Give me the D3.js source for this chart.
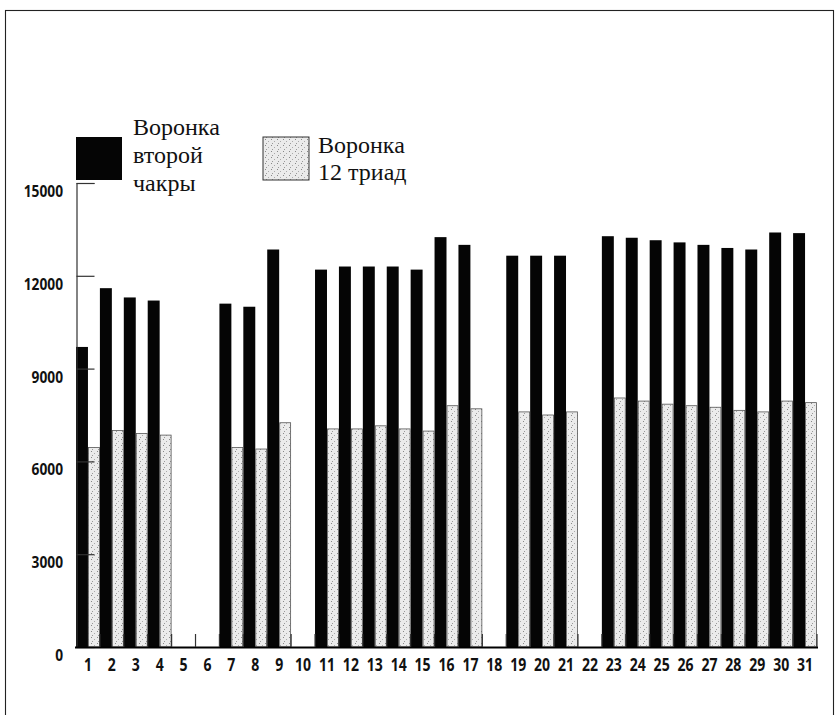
<!DOCTYPE html>
<html>
<head>
<meta charset="utf-8">
<script src="https://cdn.jsdelivr.net/npm/d3@7"></script>
<style>
  body { margin: 0; background: #fff; }
</style>
</head>
<body>
<div id="chart"></div>
<script>
// 1. DATA
// ======================================
var days = ["1","2","3","4","5","6","7","8","9","10","11","12","13","14","15","16",
  "17","18","19","20","21","22","23","24","25","26","27","28","29","30","31"];

// Воронка второй чакры (black)
var chakraValues = [9700, 11600, 11300, 11200, null, null, 11100, 11000, 12850, null,
  12200, 12300, 12300, 12300, 12200, 13250, 13000, null, 12650, 12650, 12650, null,
  13280, 13230, 13150, 13080, 13000, 12900, 12850, 13400, 13380];

// Воронка 12 триад (stippled)
var triadValues = [6450, 7000, 6900, 6850, null, null, 6450, 6400, 7250, null,
  7050, 7050, 7150, 7050, 6980, 7800, 7700, null, 7600, 7500, 7600, null,
  8050, 7950, 7850, 7800, 7750, 7650, 7600, 7950, 7900];

var yTicks = [0, 3000, 6000, 9000, 12000, 15000];

var legendChakra = ["Воронка", "второй", "чакры"];
var legendTriad = ["Воронка", "12 триад"];

var serifFont = "'Liberation Serif', 'DejaVu Serif', 'Times New Roman', serif";
var sansFont = "'Open Sans', 'DejaVu Sans', sans-serif";

// 2. SET UP SVG
// ======================================
var svgWidth = 836;
var svgHeight = 715;

var svg = d3.select("#chart")
  .append("svg")
  .attr("width", svgWidth)
  .attr("height", svgHeight);

// stipple pattern for the light bars
var defs = svg.append("defs");
var pat = defs.append("pattern")
  .attr("id", "stipple")
  .attr("patternUnits", "userSpaceOnUse")
  .attr("width", 6)
  .attr("height", 6);
pat.append("rect").attr("width", 6).attr("height", 6).attr("fill", "#ebebeb");
pat.append("rect").attr("x", 1).attr("y", 1).attr("width", 1).attr("height", 1).attr("fill", "#888");
pat.append("rect").attr("x", 4).attr("y", 3).attr("width", 1).attr("height", 1).attr("fill", "#aaa");
pat.append("rect").attr("x", 2).attr("y", 5).attr("width", 1).attr("height", 1).attr("fill", "#999");

// outer frame
svg.append("rect")
  .attr("x", 5.5)
  .attr("y", 10.5)
  .attr("width", 828)
  .attr("height", 720)
  .attr("fill", "none")
  .attr("stroke", "#222")
  .attr("stroke-width", 1.1);

// 3. SCALES
// ======================================
var xScale = d3.scaleBand()
  .domain(days)
  .range([76, 817])
  .padding(0);

var yScale = d3.scaleLinear()
  .domain([0, 15000])
  .range([647, 183]);

var bw = xScale.bandwidth();

// 4. BARS
// ======================================
var rows = days.map(function(d, i) {
  return { day: d, chakra: chakraValues[i], triad: triadValues[i] };
});

svg.append("g").selectAll("rect")
  .data(rows.filter(function(d) { return d.chakra !== null; }))
  .enter()
  .append("rect")
  .attr("x", function(d) { return xScale(d.day); })
  .attr("y", function(d) { return yScale(d.chakra); })
  .attr("width", bw / 2)
  .attr("height", function(d) { return yScale(0) - yScale(d.chakra); })
  .attr("fill", "#050505");

svg.append("g").selectAll("rect")
  .data(rows.filter(function(d) { return d.triad !== null; }))
  .enter()
  .append("rect")
  .attr("x", function(d) { return xScale(d.day) + bw / 2 + 0.5; })
  .attr("y", function(d) { return yScale(d.triad); })
  .attr("width", bw / 2 - 1)
  .attr("height", function(d) { return yScale(0) - yScale(d.triad); })
  .attr("fill", "url(#stipple)")
  .attr("stroke", "#555")
  .attr("stroke-width", 0.8);

// 5. AXES
// ======================================
var leftAxis = d3.axisRight(yScale)
  .tickValues(yTicks)
  .tickSize(18)
  .tickFormat("");

var yAxis = svg.append("g")
  .attr("transform", "translate(76.5, 0)")
  .call(leftAxis);
yAxis.select(".domain").attr("stroke", "#333").attr("stroke-width", 1.2);
yAxis.selectAll(".tick line").attr("stroke", "#333").attr("stroke-width", 1.2);

// y tick labels
svg.append("g").selectAll("text")
  .data(yTicks)
  .enter()
  .append("text")
  .attr("transform", function(d) { return "translate(63," + (yScale(d) + 14) + ") scale(0.86,1)"; })
  .attr("text-anchor", "end")
  .style("font-family", sansFont)
  .style("font-weight", "700")
  .style("font-size", "16px")
  .style("fill", "#111")
  .text(function(d) { return d; });

// x baseline
svg.append("line")
  .attr("x1", 75)
  .attr("x2", 818)
  .attr("y1", yScale(0) + 0.5)
  .attr("y2", yScale(0) + 0.5)
  .attr("stroke", "#000")
  .attr("stroke-width", 1.8);

// x tick marks between categories (pointing up)
svg.append("g").selectAll("line")
  .data(days.slice(1).concat(["end"]))
  .enter()
  .append("line")
  .attr("x1", function(d) { return d === "end" ? 817 : xScale(d); })
  .attr("x2", function(d) { return d === "end" ? 817 : xScale(d); })
  .attr("y1", yScale(0))
  .attr("y2", yScale(0) - 13)
  .attr("stroke", "#333")
  .attr("stroke-width", 1.2);

// x tick labels
svg.append("g").selectAll("text")
  .data(days)
  .enter()
  .append("text")
  .attr("transform", function(d) { return "translate(" + (xScale(d) + bw / 2) + ",671) scale(0.78,1)"; })
  .attr("text-anchor", "middle")
  .style("font-family", sansFont)
  .style("font-weight", "700")
  .style("font-size", "18px")
  .style("fill", "#111")
  .text(function(d) { return d; });

// 6. LEGEND
// ======================================
svg.append("rect")
  .attr("x", 76)
  .attr("y", 137)
  .attr("width", 46)
  .attr("height", 43)
  .attr("fill", "#050505");

svg.append("g").selectAll("text")
  .data(legendChakra)
  .enter()
  .append("text")
  .attr("x", 133)
  .attr("y", function(d, i) { return 135 + i * 28; })
  .style("font-family", serifFont)
  .style("font-size", "24px")
  .style("fill", "#111")
  .text(function(d) { return d; });

svg.append("rect")
  .attr("x", 263)
  .attr("y", 137)
  .attr("width", 46)
  .attr("height", 43)
  .attr("fill", "url(#stipple)")
  .attr("stroke", "#333")
  .attr("stroke-width", 1);

svg.append("g").selectAll("text")
  .data(legendTriad)
  .enter()
  .append("text")
  .attr("x", 318)
  .attr("y", function(d, i) { return 153 + i * 27; })
  .style("font-family", serifFont)
  .style("font-size", "24px")
  .style("fill", "#111")
  .text(function(d) { return d; });
</script>
</body>
</html>
